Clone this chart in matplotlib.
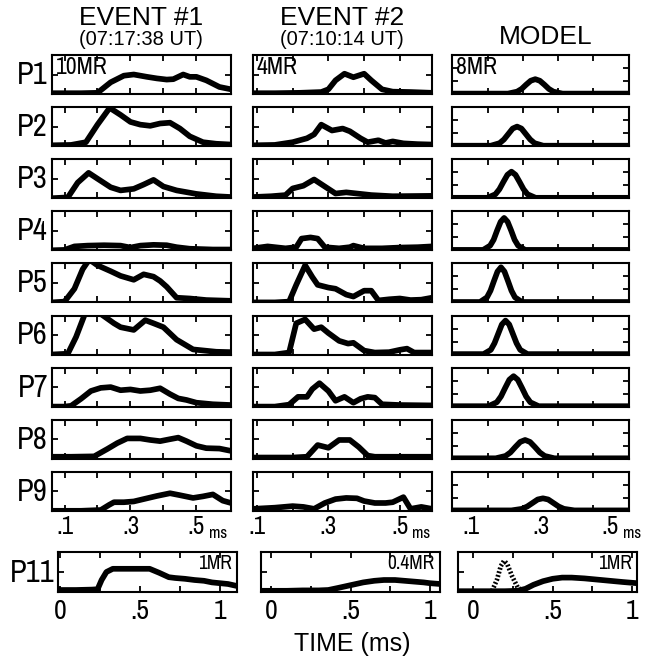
import matplotlib
matplotlib.use('Agg')
import matplotlib.pyplot as plt

NARROW = ['Archivo Narrow', 'Liberation Sans', 'DejaVu Sans']
WIDE = ['Liberation Sans', 'DejaVu Sans']
plt.rcParams['font.family'] = NARROW

# ---- data (time in ms, intensity as fraction of panel height) ----
rows = ['P1', 'P2', 'P3', 'P4', 'P5', 'P6', 'P7', 'P8', 'P9']
headers = ['EVENT #1', 'EVENT #2', 'MODEL']
subheaders = ['(07:17:38 UT)', '(07:10:14 UT)', '']
scale_labels = ['10MR', '4MR', '8MR']
p11_labels = ['1MR', '0.4MR', '1MR']

ev1_t = [
    [0.062, 0.15, 0.2, 0.24, 0.28, 0.31, 0.35, 0.38, 0.41, 0.43, 0.46, 0.48, 0.5, 0.53, 0.57, 0.605],
    [0.062, 0.12, 0.165, 0.2, 0.237, 0.27, 0.3, 0.33, 0.36, 0.39, 0.42, 0.45, 0.48, 0.52, 0.56, 0.605],
    [0.062, 0.11, 0.14, 0.173, 0.2, 0.24, 0.27, 0.31, 0.34, 0.37, 0.4, 0.44, 0.5, 0.56, 0.605],
    [0.062, 0.1, 0.13, 0.17, 0.22, 0.27, 0.3, 0.33, 0.37, 0.41, 0.44, 0.48, 0.55, 0.605],
    [0.062, 0.1, 0.13, 0.155, 0.175, 0.2, 0.24, 0.27, 0.31, 0.34, 0.37, 0.39, 0.41, 0.44, 0.48, 0.53, 0.605],
    [0.062, 0.11, 0.135, 0.16, 0.18, 0.2, 0.225, 0.25, 0.27, 0.31, 0.345, 0.37, 0.4, 0.44, 0.49, 0.56, 0.605],
    [0.062, 0.1, 0.12, 0.15, 0.18, 0.21, 0.24, 0.27, 0.3, 0.33, 0.36, 0.39, 0.42, 0.445, 0.47, 0.5, 0.55, 0.605],
    [0.062, 0.12, 0.19, 0.23, 0.26, 0.29, 0.33, 0.36, 0.39, 0.42, 0.445, 0.47, 0.5, 0.53, 0.57, 0.605],
    [0.062, 0.15, 0.21, 0.235, 0.25, 0.28, 0.31, 0.34, 0.38, 0.42, 0.45, 0.49, 0.52, 0.55, 0.58, 0.605],
]
ev1_y = [
    [0.02, 0.02, 0.03, 0.3, 0.47, 0.5, 0.44, 0.4, 0.37, 0.38, 0.5, 0.44, 0.44, 0.35, 0.18, 0.12],
    [0.02, 0.03, 0.1, 0.55, 0.98, 0.8, 0.62, 0.55, 0.52, 0.58, 0.6, 0.45, 0.25, 0.1, 0.06, 0.04],
    [0.0, 0.02, 0.4, 0.65, 0.5, 0.28, 0.2, 0.24, 0.35, 0.47, 0.3, 0.2, 0.11, 0.05, 0.03],
    [0.0, 0.01, 0.1, 0.12, 0.13, 0.12, 0.07, 0.12, 0.14, 0.13, 0.08, 0.04, 0.02, 0.02],
    [0.0, 0.02, 0.35, 0.85, 1.1, 0.95, 0.8, 0.68, 0.58, 0.72, 0.66, 0.55, 0.4, 0.12, 0.1, 0.06, 0.04],
    [0.0, 0.02, 0.45, 1.0, 1.2, 1.1, 0.95, 0.8, 0.7, 0.63, 0.88, 0.8, 0.7, 0.38, 0.13, 0.07, 0.06],
    [0.0, 0.0, 0.02, 0.2, 0.4, 0.48, 0.5, 0.42, 0.44, 0.4, 0.42, 0.47, 0.32, 0.21, 0.17, 0.1, 0.06, 0.04],
    [0.05, 0.05, 0.06, 0.25, 0.4, 0.52, 0.52, 0.48, 0.45, 0.5, 0.54, 0.45, 0.33, 0.27, 0.26, 0.2],
    [0.0, 0.0, 0.02, 0.15, 0.22, 0.22, 0.24, 0.3, 0.38, 0.45, 0.4, 0.33, 0.37, 0.42, 0.26, 0.2],
]

ev2_t = [
    [0.089, 0.15, 0.22, 0.28, 0.3, 0.32, 0.345, 0.37, 0.4, 0.42, 0.45, 0.48, 0.53, 0.59],
    [0.089, 0.15, 0.2, 0.24, 0.26, 0.28, 0.31, 0.34, 0.36, 0.39, 0.41, 0.44, 0.46, 0.48, 0.51, 0.55, 0.59],
    [0.089, 0.14, 0.18, 0.2, 0.23, 0.26, 0.29, 0.32, 0.35, 0.38, 0.42, 0.48, 0.59],
    [0.089, 0.13, 0.18, 0.21, 0.225, 0.25, 0.27, 0.29, 0.33, 0.36, 0.37, 0.4, 0.45, 0.5, 0.55, 0.59],
    [0.089, 0.15, 0.19, 0.21, 0.235, 0.255, 0.27, 0.3, 0.32, 0.35, 0.37, 0.4, 0.42, 0.44, 0.47, 0.5, 0.53, 0.56, 0.59],
    [0.089, 0.15, 0.19, 0.21, 0.235, 0.26, 0.28, 0.3, 0.33, 0.355, 0.37, 0.4, 0.43, 0.47, 0.5, 0.52, 0.54, 0.59],
    [0.089, 0.15, 0.19, 0.215, 0.24, 0.255, 0.275, 0.3, 0.32, 0.345, 0.37, 0.39, 0.41, 0.43, 0.45, 0.5, 0.59],
    [0.089, 0.2, 0.24, 0.27, 0.3, 0.33, 0.36, 0.385, 0.41, 0.43, 0.5, 0.59],
    [0.089, 0.15, 0.2, 0.23, 0.26, 0.29, 0.32, 0.35, 0.38, 0.4, 0.43, 0.46, 0.48, 0.51, 0.53, 0.56, 0.59],
]
ev2_y = [
    [0.02, 0.02, 0.03, 0.05, 0.12, 0.35, 0.52, 0.43, 0.52, 0.35, 0.12, 0.06, 0.05, 0.03],
    [0.02, 0.03, 0.1, 0.2, 0.3, 0.55, 0.4, 0.45, 0.38, 0.2, 0.1, 0.15, 0.08, 0.12, 0.07, 0.05, 0.04],
    [0.03, 0.05, 0.08, 0.25, 0.32, 0.48, 0.3, 0.12, 0.15, 0.12, 0.08, 0.05, 0.06],
    [0.05, 0.1, 0.05, 0.08, 0.3, 0.33, 0.3, 0.08, 0.05, 0.08, 0.12, 0.05, 0.05, 0.07, 0.08, 0.1],
    [0.0, 0.0, 0.02, 0.45, 0.95, 0.65, 0.45, 0.38, 0.35, 0.2, 0.15, 0.3, 0.3, 0.05, 0.08, 0.1, 0.06, 0.07, 0.12],
    [0.0, 0.0, 0.05, 0.8, 0.9, 0.65, 0.7, 0.55, 0.35, 0.28, 0.3, 0.1, 0.05, 0.06, 0.12, 0.15, 0.05, 0.05],
    [0.0, 0.0, 0.05, 0.25, 0.25, 0.45, 0.6, 0.4, 0.15, 0.25, 0.1, 0.2, 0.25, 0.23, 0.06, 0.04, 0.03],
    [0.03, 0.03, 0.05, 0.35, 0.28, 0.48, 0.48, 0.3, 0.08, 0.05, 0.05, 0.05],
    [0.05, 0.08, 0.12, 0.1, 0.05, 0.2, 0.3, 0.33, 0.32, 0.25, 0.2, 0.2, 0.22, 0.35, 0.05, 0.1, 0.05],
]

model_t = [
    [0.047, 0.207, 0.233, 0.246, 0.259, 0.272, 0.285, 0.298, 0.311, 0.324, 0.337, 0.363, 0.553],
    [0.047, 0.158, 0.183, 0.1955, 0.208, 0.2205, 0.233, 0.2455, 0.258, 0.2705, 0.283, 0.308, 0.553],
    [0.047, 0.148, 0.171, 0.1825, 0.194, 0.2055, 0.217, 0.2285, 0.24, 0.2515, 0.263, 0.286, 0.553],
    [0.047, 0.136, 0.156, 0.166, 0.176, 0.186, 0.196, 0.206, 0.216, 0.226, 0.236, 0.256, 0.553],
    [0.047, 0.127, 0.147, 0.157, 0.167, 0.177, 0.187, 0.197, 0.207, 0.217, 0.227, 0.247, 0.553],
    [0.047, 0.137, 0.158, 0.1685, 0.179, 0.1895, 0.2, 0.2105, 0.221, 0.2315, 0.242, 0.263, 0.553],
    [0.047, 0.151, 0.175, 0.187, 0.199, 0.211, 0.223, 0.235, 0.247, 0.259, 0.271, 0.295, 0.553],
    [0.047, 0.172, 0.2, 0.214, 0.228, 0.242, 0.256, 0.27, 0.284, 0.298, 0.312, 0.34, 0.553],
    [0.047, 0.217, 0.247, 0.262, 0.277, 0.292, 0.307, 0.322, 0.337, 0.352, 0.367, 0.397, 0.553],
]
model_y = [
    [0.01, 0.01, 0.06, 0.13, 0.24, 0.34, 0.38, 0.34, 0.24, 0.13, 0.06, 0.01, 0.01],
    [0.01, 0.01, 0.075, 0.17, 0.31, 0.45, 0.5, 0.45, 0.31, 0.17, 0.075, 0.01, 0.01],
    [0.01, 0.01, 0.1, 0.23, 0.42, 0.6, 0.68, 0.6, 0.42, 0.23, 0.1, 0.01, 0.01],
    [0.01, 0.01, 0.12, 0.27, 0.51, 0.73, 0.83, 0.73, 0.51, 0.27, 0.12, 0.01, 0.01],
    [0.01, 0.01, 0.13, 0.3, 0.55, 0.79, 0.9, 0.79, 0.55, 0.3, 0.13, 0.01, 0.01],
    [0.01, 0.01, 0.12, 0.29, 0.53, 0.77, 0.87, 0.77, 0.53, 0.29, 0.12, 0.01, 0.01],
    [0.01, 0.01, 0.11, 0.26, 0.48, 0.69, 0.78, 0.69, 0.48, 0.26, 0.11, 0.01, 0.01],
    [0.01, 0.01, 0.07, 0.16, 0.3, 0.43, 0.48, 0.43, 0.3, 0.16, 0.07, 0.01, 0.01],
    [0.01, 0.01, 0.05, 0.11, 0.2, 0.29, 0.32, 0.29, 0.2, 0.11, 0.05, 0.01, 0.01],
]

# P11 (0-1 ms)
p11_t = [
    [-0.0125, 0.1, 0.2, 0.235, 0.26, 0.29, 0.33, 0.4, 0.5, 0.56, 0.62, 0.68, 0.72, 0.78, 0.84, 0.9, 0.95, 1.0, 1.05, 1.106],
    [-0.063, 0.1, 0.2, 0.3, 0.36, 0.42, 0.5, 0.58, 0.65, 0.71, 0.78, 0.84, 0.9, 0.96, 1.0, 1.063],
    [-0.094, 0.1, 0.2, 0.28, 0.33, 0.38, 0.44, 0.5, 0.56, 0.62, 0.7, 0.78, 0.86, 0.94, 1.03],
]
p11_y = [
    [0.05, 0.05, 0.06, 0.07, 0.3, 0.5, 0.58, 0.58, 0.58, 0.58, 0.48, 0.37, 0.35, 0.33, 0.3, 0.28, 0.24, 0.22, 0.2, 0.15],
    [0.03, 0.03, 0.04, 0.04, 0.05, 0.1, 0.17, 0.24, 0.28, 0.3, 0.3, 0.28, 0.26, 0.24, 0.22, 0.2],
    [0.02, 0.02, 0.02, 0.03, 0.08, 0.18, 0.27, 0.33, 0.36, 0.36, 0.34, 0.31, 0.28, 0.25, 0.22],
]
p11_model_fast_t = [0.12, 0.15, 0.175, 0.195, 0.215, 0.245, 0.28, 0.31]
p11_model_fast_y = [0.03, 0.3, 0.65, 0.78, 0.7, 0.4, 0.12, 0.03]

# ---- layout (pixels) ----
W, H = 648, 664
fig = plt.figure(figsize=(W / 100, H / 100), dpi=100)

col_x = [(52, 231), (253, 432), (452, 629)]
col_xlim = [(0.062, 0.605), (0.089, 0.59), (0.047, 0.553)]
p11_x = [(58, 237), (261, 440), (458, 637)]
p11_xlim = [(-0.0125, 1.106), (-0.063, 1.063), (-0.094, 1.03)]
centers = [141, 342, 541]
LW = 4.1


def make_axes(x0, x1, y0, y1):
    ax = fig.add_axes([x0 / W, 1 - y1 / H, (x1 - x0) / W, (y1 - y0) / H])
    for s in ax.spines.values():
        s.set_linewidth(1.5)
    ax.tick_params(which='both', direction='in', top=True, right=True,
                   length=4, width=1.3, labelsize=18, pad=3)
    ax.set_ylim(0, 1)
    return ax


all_t = [ev1_t, ev2_t, model_t]
all_y = [ev1_y, ev2_y, model_y]

for c in range(3):
    for r in range(9):
        top = 55 + 52.1 * r
        ax = make_axes(col_x[c][0], col_x[c][1], top, top + 39)
        ax.plot(all_t[c][r], all_y[c][r], color='black', lw=LW,
                solid_joinstyle='round', solid_capstyle='butt')
        ax.set_xlim(*col_xlim[c])
        if c < 2:
            ax.set_yticks([0.5])
            ax.set_xticks([0.1, 0.2, 0.3, 0.4, 0.5])
            ax.set_xticklabels(['.1', '', '.3', '', '.5'])
        else:
            ax.set_yticks([1 / 3, 2 / 3])
            ax.set_xticks([0.1, 0.3, 0.5])
            ax.set_xticklabels(['.1', '.3', '.5'])
            ax.set_xticks([0.15, 0.25, 0.35, 0.45], minor=True)
            ax.tick_params(axis='x', which='major', length=0, pad=3)
        ax.set_yticklabels([])
        if r < 8:
            ax.set_xticklabels([])
        else:
            ax.annotate('ms', xy=(0.5, 0), xycoords=('data', 'axes fraction'),
                        xytext=(9, -16), textcoords='offset points',
                        ha='left', va='center', fontsize=12)
        if r == 0:
            ax.text(0.02, 0.96, scale_labels[c], transform=ax.transAxes,
                    ha='left', va='top', fontsize=17)
        if c == 0:
            fig.text(48 / W, 1 - (top + 20) / H, rows[r], ha='right',
                     va='center', fontsize=22)

    # P11 row
    ax = make_axes(p11_x[c][0], p11_x[c][1], 552, 592)
    ax.plot(p11_t[c], p11_y[c], color='black', lw=LW,
            solid_joinstyle='round', solid_capstyle='butt')
    if c == 2:
        ax.plot(p11_model_fast_t, p11_model_fast_y, color='black', lw=3.4,
                linestyle=(0, (0.4, 0.4)))
    ax.set_xlim(*p11_xlim[c])
    ax.set_xticks([0, 0.5, 1])
    ax.set_xticklabels(['0', '.5', '1'], fontsize=20)
    ax.set_xticks([0.25, 0.75], minor=True)
    ax.tick_params(axis='x', pad=5)
    ax.set_yticks([0.5])
    ax.set_yticklabels([])
    ax.tick_params(axis='y', right=False)
    ax.text(0.97, 0.94, p11_labels[c], transform=ax.transAxes,
            ha='right', va='top', fontsize=14)
    if c == 0:
        fig.text(55 / W, 1 - 573 / H, 'P11', ha='right', va='center', fontsize=22)

# headers
for c in range(3):
    if subheaders[c]:
        fig.text(centers[c] / W, 1 - 25 / H, headers[c], ha='center',
                 va='baseline', fontsize=19, family=WIDE)
        fig.text(centers[c] / W, 1 - 45 / H, subheaders[c], ha='center',
                 va='baseline', fontsize=14.5, family=WIDE)
    else:
        fig.text(centers[c] / W + 5 / W, 1 - 44 / H, headers[c], ha='center',
                 va='baseline', fontsize=19, family=WIDE)

fig.text(352 / W, 1 - 651 / H, 'TIME (ms)', ha='center', va='baseline',
         fontsize=18, family=WIDE)

fig.savefig('out.png', dpi=100)
